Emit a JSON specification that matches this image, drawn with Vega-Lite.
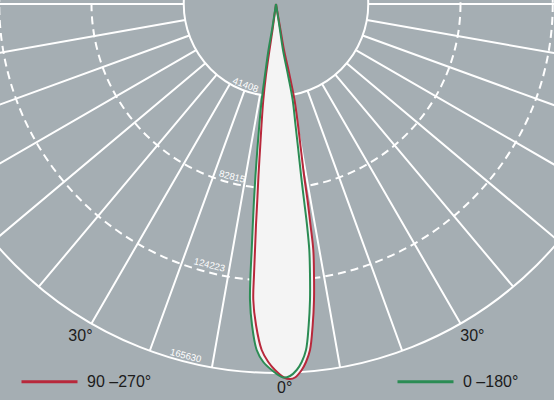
{
  "$schema": "https://vega.github.io/schema/vega-lite/v6.json",
  "width": 554,
  "height": 400,
  "padding": 0,
  "autosize": {"type": "none"},
  "background": "#a5aeb3",
  "config": {"view": {"stroke": null}},
  "datasets": {
    "rays": [
      {"a": -90, "r1": 41408, "r2": 165630}, {"a": -80, "r1": 41408, "r2": 165630},
      {"a": -70, "r1": 41408, "r2": 165630}, {"a": -60, "r1": 41408, "r2": 165630},
      {"a": -50, "r1": 41408, "r2": 165630}, {"a": -40, "r1": 41408, "r2": 165630},
      {"a": -30, "r1": 41408, "r2": 165630}, {"a": -20, "r1": 41408, "r2": 165630},
      {"a": -10, "r1": 41408, "r2": 165630}, {"a": 0, "r1": 41408, "r2": 165630},
      {"a": 10, "r1": 41408, "r2": 165630}, {"a": 20, "r1": 41408, "r2": 165630},
      {"a": 30, "r1": 41408, "r2": 165630}, {"a": 40, "r1": 41408, "r2": 165630},
      {"a": 50, "r1": 41408, "r2": 165630}, {"a": 60, "r1": 41408, "r2": 165630},
      {"a": 70, "r1": 41408, "r2": 165630}, {"a": 80, "r1": 41408, "r2": 165630},
      {"a": 90, "r1": 41408, "r2": 165630}
    ],
    "rings": [
      {"r": 41408, "kind": "solid"},
      {"r": 82815, "kind": "dashed"},
      {"r": 124223, "kind": "dashed"},
      {"r": 165630, "kind": "solid"}
    ],
    "values": [
      {"t": "41408", "a": -20.6, "r": 38870},
      {"t": "82815", "a": -14.3, "r": 79990},
      {"t": "124223", "a": -14.3, "r": 120930},
      {"t": "165630", "a": -14.4, "r": 163030}
    ],
    "degrees": [
      {"t": "30°", "a": -30.5, "r": 172950},
      {"t": "30°", "a": 30.6, "r": 173170},
      {"t": "0°", "a": 1.3, "r": 172190}
    ],
    "lobe": [
      {"curve": "90 –270°", "i": 0, "h": 0, "v": 0},
      {"curve": "90 –270°", "i": 1, "h": -1571, "v": -11671},
      {"curve": "90 –270°", "i": 2, "h": -2918, "v": -20648},
      {"curve": "90 –270°", "i": 3, "h": -4489, "v": -31870},
      {"curve": "90 –270°", "i": 4, "h": -5701, "v": -43092},
      {"curve": "90 –270°", "i": 5, "h": -6509, "v": -54313},
      {"curve": "90 –270°", "i": 6, "h": -7182, "v": -65535},
      {"curve": "90 –270°", "i": 7, "h": -7855, "v": -76757},
      {"curve": "90 –270°", "i": 8, "h": -8394, "v": -87979},
      {"curve": "90 –270°", "i": 9, "h": -8977, "v": -99200},
      {"curve": "90 –270°", "i": 10, "h": -9426, "v": -110422},
      {"curve": "90 –270°", "i": 11, "h": -9875, "v": -121644},
      {"curve": "90 –270°", "i": 12, "h": -10189, "v": -132866},
      {"curve": "90 –270°", "i": 13, "h": -8977, "v": -144087},
      {"curve": "90 –270°", "i": 14, "h": -6419, "v": -155309},
      {"curve": "90 –270°", "i": 15, "h": -3457, "v": -160696},
      {"curve": "90 –270°", "i": 16, "h": -449, "v": -164286},
      {"curve": "90 –270°", "i": 17, "h": 3591, "v": -167653},
      {"curve": "90 –270°", "i": 18, "h": 6284, "v": -168326},
      {"curve": "90 –270°", "i": 19, "h": 8529, "v": -167653},
      {"curve": "90 –270°", "i": 20, "h": 11536, "v": -164286},
      {"curve": "90 –270°", "i": 21, "h": 13466, "v": -160696},
      {"curve": "90 –270°", "i": 22, "h": 15262, "v": -155309},
      {"curve": "90 –270°", "i": 23, "h": 16474, "v": -144087},
      {"curve": "90 –270°", "i": 24, "h": 17057, "v": -132866},
      {"curve": "90 –270°", "i": 25, "h": 17057, "v": -121644},
      {"curve": "90 –270°", "i": 26, "h": 16743, "v": -110422},
      {"curve": "90 –270°", "i": 27, "h": 15486, "v": -99200},
      {"curve": "90 –270°", "i": 28, "h": 14139, "v": -87979},
      {"curve": "90 –270°", "i": 29, "h": 12568, "v": -76757},
      {"curve": "90 –270°", "i": 30, "h": 11222, "v": -65535},
      {"curve": "90 –270°", "i": 31, "h": 9875, "v": -54313},
      {"curve": "90 –270°", "i": 32, "h": 8304, "v": -43092},
      {"curve": "90 –270°", "i": 33, "h": 6060, "v": -31870},
      {"curve": "90 –270°", "i": 34, "h": 3591, "v": -20648},
      {"curve": "90 –270°", "i": 35, "h": 2020, "v": -11671},
      {"curve": "90 –270°", "i": 36, "h": 0, "v": 0},
      {"curve": "0 –180°", "i": 0, "h": 0, "v": 0},
      {"curve": "0 –180°", "i": 1, "h": -1795, "v": -11671},
      {"curve": "0 –180°", "i": 2, "h": -3366, "v": -20648},
      {"curve": "0 –180°", "i": 3, "h": -4938, "v": -31870},
      {"curve": "0 –180°", "i": 4, "h": -6419, "v": -43092},
      {"curve": "0 –180°", "i": 5, "h": -7496, "v": -54313},
      {"curve": "0 –180°", "i": 6, "h": -8394, "v": -65535},
      {"curve": "0 –180°", "i": 7, "h": -9202, "v": -76757},
      {"curve": "0 –180°", "i": 8, "h": -9875, "v": -87979},
      {"curve": "0 –180°", "i": 9, "h": -10414, "v": -99200},
      {"curve": "0 –180°", "i": 10, "h": -10908, "v": -110422},
      {"curve": "0 –180°", "i": 11, "h": -11446, "v": -121644},
      {"curve": "0 –180°", "i": 12, "h": -11671, "v": -132866},
      {"curve": "0 –180°", "i": 13, "h": -10773, "v": -144087},
      {"curve": "0 –180°", "i": 14, "h": -8663, "v": -155309},
      {"curve": "0 –180°", "i": 15, "h": -5701, "v": -160696},
      {"curve": "0 –180°", "i": 16, "h": -1930, "v": -164286},
      {"curve": "0 –180°", "i": 17, "h": 3142, "v": -167653},
      {"curve": "0 –180°", "i": 18, "h": 6284, "v": -166980},
      {"curve": "0 –180°", "i": 19, "h": 9292, "v": -164286},
      {"curve": "0 –180°", "i": 20, "h": 11536, "v": -160696},
      {"curve": "0 –180°", "i": 21, "h": 13466, "v": -155309},
      {"curve": "0 –180°", "i": 22, "h": 14678, "v": -144087},
      {"curve": "0 –180°", "i": 23, "h": 15262, "v": -132866},
      {"curve": "0 –180°", "i": 24, "h": 15262, "v": -121644},
      {"curve": "0 –180°", "i": 25, "h": 14947, "v": -110422},
      {"curve": "0 –180°", "i": 26, "h": 13915, "v": -99200},
      {"curve": "0 –180°", "i": 27, "h": 12568, "v": -87979},
      {"curve": "0 –180°", "i": 28, "h": 11222, "v": -76757},
      {"curve": "0 –180°", "i": 29, "h": 10010, "v": -65535},
      {"curve": "0 –180°", "i": 30, "h": 8753, "v": -54313},
      {"curve": "0 –180°", "i": 31, "h": 7496, "v": -43092},
      {"curve": "0 –180°", "i": 32, "h": 5386, "v": -31870},
      {"curve": "0 –180°", "i": 33, "h": 3142, "v": -20648},
      {"curve": "0 –180°", "i": 34, "h": 1795, "v": -11671},
      {"curve": "0 –180°", "i": 35, "h": 0, "v": 0}
    ]
  },
  "layer": [
    {
      "data": {"name": "rays"},
      "mark": {"type": "arc", "filled": false, "stroke": "#ffffff", "strokeWidth": 2, "clip": true},
      "encoding": {
        "x": {"datum": 0, "type": "quantitative", "scale": {"domain": [-123887, 124785], "nice": false, "zero": false}, "axis": null},
        "y": {"datum": 0, "type": "quantitative", "scale": {"domain": [-177752, 1795], "nice": false, "zero": false}, "axis": null},
        "theta": {"field": "a", "type": "quantitative", "stack": false, "scale": {"domain": [-180, 180], "range": [6.283185, 0]}},
        "theta2": {"field": "a"},
        "radius": {"field": "r1", "type": "quantitative", "scale": {"type": "linear", "domain": [0, 165630], "range": [0, 369], "zero": true}},
        "radius2": {"field": "r2"}
      }
    },
    {
      "data": {"name": "rings"},
      "transform": [{"filter": "datum.kind == 'solid'"}],
      "mark": {"type": "point", "shape": "circle", "filled": false, "stroke": "#ffffff", "strokeWidth": 2, "opacity": 1, "clip": true},
      "encoding": {
        "x": {"datum": 0, "type": "quantitative", "scale": {"domain": [-123887, 124785], "nice": false, "zero": false}, "axis": null},
        "y": {"datum": 0, "type": "quantitative", "scale": {"domain": [-177752, 1795], "nice": false, "zero": false}, "axis": null},
        "size": {"field": "r", "type": "quantitative", "scale": {"type": "pow", "exponent": 2, "domain": [0, 165630], "range": [0, 544644]}, "legend": null}
      }
    },
    {
      "data": {"name": "rings"},
      "transform": [{"filter": "datum.kind == 'dashed'"}],
      "mark": {"type": "point", "shape": "circle", "filled": false, "stroke": "#ffffff", "strokeWidth": 2, "strokeDash": [8, 5], "opacity": 1, "clip": true},
      "encoding": {
        "x": {"datum": 0, "type": "quantitative", "scale": {"domain": [-123887, 124785], "nice": false, "zero": false}, "axis": null},
        "y": {"datum": 0, "type": "quantitative", "scale": {"domain": [-177752, 1795], "nice": false, "zero": false}, "axis": null},
        "size": {"field": "r", "type": "quantitative", "scale": {"type": "pow", "exponent": 2, "domain": [0, 165630], "range": [0, 544644]}, "legend": null}
      }
    },
    {
      "data": {"name": "values"},
      "mark": {"type": "text", "font": "Liberation Sans", "fontSize": 9.5, "fill": "#ffffff", "align": "center", "baseline": "middle"},
      "encoding": {
        "x": {"datum": 0, "type": "quantitative", "scale": {"domain": [-123887, 124785], "nice": false, "zero": false}, "axis": null},
        "y": {"datum": 0, "type": "quantitative", "scale": {"domain": [-177752, 1795], "nice": false, "zero": false}, "axis": null},
        "theta": {"field": "a", "type": "quantitative", "stack": false, "scale": {"domain": [-180, 180], "range": [6.283185, 0]}},
        "radius": {"field": "r", "type": "quantitative", "scale": {"type": "linear", "domain": [0, 165630], "range": [0, 369], "zero": true}},
        "angle": {"field": "a", "type": "quantitative", "scale": {"domain": [-90, 90], "range": [90, -90]}, "legend": null},
        "text": {"field": "t"}
      }
    },
    {
      "data": {"name": "lobe"},
      "mark": {"type": "line", "fill": "#f4f4f4", "stroke": "#f4f4f4", "strokeWidth": 0, "interpolate": "catmull-rom", "clip": true},
      "encoding": {
        "x": {"field": "h", "type": "quantitative", "scale": {"domain": [-123887, 124785], "nice": false, "zero": false}, "axis": null},
        "y": {"field": "v", "type": "quantitative", "scale": {"domain": [-177752, 1795], "nice": false, "zero": false}, "axis": null},
        "detail": {"field": "curve"},
        "order": {"field": "i"}
      }
    },
    {
      "data": {"name": "lobe"},
      "mark": {"type": "line", "strokeWidth": 2, "interpolate": "catmull-rom", "clip": true},
      "encoding": {
        "x": {"field": "h", "type": "quantitative", "scale": {"domain": [-123887, 124785], "nice": false, "zero": false}, "axis": null},
        "y": {"field": "v", "type": "quantitative", "scale": {"domain": [-177752, 1795], "nice": false, "zero": false}, "axis": null},
        "order": {"field": "i"},
        "color": {
          "field": "curve",
          "type": "nominal",
          "scale": {"domain": ["90 –270°", "0 –180°"], "range": ["#b8283b", "#2b8c54"]},
          "legend": {
            "orient": "none", "legendX": 20, "legendY": 352, "direction": "horizontal",
            "columns": 2, "columnPadding": 239, "title": null, "padding": 0,
            "symbolType": "stroke", "symbolSize": 3136, "symbolStrokeWidth": 3, "symbolOpacity": 1,
            "labelFont": "Liberation Sans", "labelFontSize": 16, "labelColor": "#1c1c1c", "labelOffset": 8
          }
        }
      }
    },
    {
      "data": {"name": "degrees"},
      "mark": {"type": "text", "font": "Liberation Sans", "fontSize": 16, "fill": "#1c1c1c", "align": "center", "baseline": "middle"},
      "encoding": {
        "x": {"datum": 0, "type": "quantitative", "scale": {"domain": [-123887, 124785], "nice": false, "zero": false}, "axis": null},
        "y": {"datum": 0, "type": "quantitative", "scale": {"domain": [-177752, 1795], "nice": false, "zero": false}, "axis": null},
        "theta": {"field": "a", "type": "quantitative", "stack": false, "scale": {"domain": [-180, 180], "range": [6.283185, 0]}},
        "radius": {"field": "r", "type": "quantitative", "scale": {"type": "linear", "domain": [0, 165630], "range": [0, 369], "zero": true}},
        "text": {"field": "t"}
      }
    }
  ]
}
